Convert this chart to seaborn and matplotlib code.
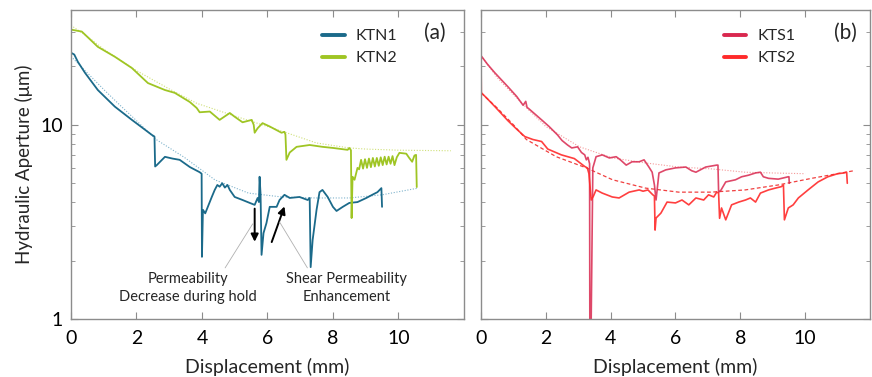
import numpy as np
import pandas as pd
import matplotlib
matplotlib.use("Agg")
import matplotlib.pyplot as plt
from matplotlib.ticker import LogLocator, FixedLocator, FuncFormatter, NullFormatter
import seaborn as sns

# ---------------- data ----------------
# Panel (a)
ktn1_x = [0, 0.1, 0.21, 0.43, 0.82, 1.34, 1.86, 2.2, 2.47, 2.55, 2.57, 2.62, 2.87, 3.1, 3.32, 3.63, 3.93,
          3.99, 4.0, 4.03, 4.1, 4.3, 4.39, 4.47, 4.54, 4.62, 4.7, 4.78, 4.85, 5.0, 5.24, 5.46, 5.61, 5.70,
          5.74, 5.76, 5.79, 5.82, 5.88, 5.97, 6.07, 6.28, 6.37, 6.52, 6.68, 6.98, 7.23, 7.29, 7.32, 7.38,
          7.5, 7.59, 7.68, 7.84, 8.0, 8.11, 8.3, 8.5, 8.75, 9.02, 9.2, 9.36, 9.48, 9.5]
ktn1_y = [23.5, 23.0, 21.1, 18.5, 15.1, 12.4, 10.6, 9.6, 8.87, 8.7, 6.1, 6.2, 6.84, 6.7, 6.6, 6.06, 5.7,
          5.6, 2.09, 3.65, 3.5, 4.25, 4.62, 4.9, 4.8, 5.0, 4.75, 4.9, 4.62, 4.25, 4.1, 3.96, 3.87, 4.2,
          4.0, 5.4, 4.4, 2.14, 2.77, 3.12, 3.78, 3.78, 4.1, 4.36, 4.2, 4.25, 4.1, 4.2, 1.85, 2.55,
          3.65, 4.5, 4.62, 4.25, 3.78, 3.6, 3.78, 3.96, 4.0, 4.2, 4.36, 4.5, 4.72, 3.78]

ktn2_x = [0, 0.33, 0.82, 1.34, 1.86, 2.35, 2.87, 3.17, 3.63, 3.84, 3.93, 4.24, 4.54, 4.85, 5.0, 5.24,
          5.52, 5.58, 5.61, 5.70, 5.85, 6.07, 6.43, 6.52, 6.55, 6.58, 6.68, 6.89, 7.29, 7.68, 8.0, 8.45,
          8.5, 8.55, 8.57, 8.6, 8.66, 8.75,
          8.80, 8.86, 8.92, 8.98, 9.04, 9.10, 9.16, 9.22, 9.28, 9.34, 9.40, 9.46, 9.52,
          9.58, 9.64, 9.70, 9.76, 9.82, 9.88, 9.95, 10.03, 10.24, 10.33, 10.42, 10.49, 10.54, 10.56]
ktn2_y = [30.9, 30.2, 25.2, 22.4, 19.6, 16.4, 15.1, 14.6, 13.1, 12.2, 11.6, 11.7, 10.6, 11.5, 11.0, 10.3,
          10.6, 10.0, 9.1, 9.6, 10.2, 9.8, 9.1, 9.2, 8.9, 6.6, 7.2, 7.7, 7.87, 7.7, 7.6, 7.43,
          7.6, 7.4, 3.31, 5.4, 5.21, 6.0,
          5.9, 6.6, 5.95, 6.65, 6.0, 6.7, 6.05, 6.75, 6.1, 6.75, 6.15, 6.8, 6.2,
          6.85, 6.25, 6.85, 6.3, 6.9, 6.2, 6.8, 7.17, 7.1, 6.75, 6.45, 6.95, 7.0, 4.78]

ktn1_fit_x = [0, 0.5, 1.0, 1.5, 2.0, 2.6, 3.46, 4.4, 5.42, 6.44, 7.45, 8.5, 9.5, 10.6]
ktn1_fit_y = [22.5, 18.5, 15.2, 12.6, 10.5, 8.4, 6.8, 5.2, 4.45, 4.25, 4.2, 4.2, 4.36, 4.72]
ktn2_fit_x = [0, 0.5, 1, 2, 3, 3.84, 5, 6, 6.5, 7.5, 8.5, 9, 10, 11.6]
ktn2_fit_y = [32.5, 28.5, 24.5, 19.0, 15.3, 12.9, 11.1, 9.8, 9.2, 8.06, 7.6, 7.5, 7.4, 7.35]

# Panel (b)
kts1_x = [0, 0.2, 0.43, 0.83, 1.1, 1.3, 1.38, 1.42, 1.5, 1.87, 2.1, 2.36, 2.5, 2.67, 2.8, 2.98, 3.1,
          3.2, 3.25, 3.3, 3.35, 3.36, 3.38, 3.45, 3.55, 3.74, 3.96, 4.17, 4.3, 4.48, 4.66, 4.88, 5.03,
          5.18, 5.28, 5.35, 5.4, 5.49, 5.7, 6.0, 6.32, 6.5, 6.63, 6.93, 7.27, 7.31, 7.33, 7.4, 7.55,
          7.85, 8.04, 8.25, 8.47, 8.62, 8.71, 8.87, 9.17, 9.48, 9.5, 9.51]
kts1_y = [22.7, 20.5, 18.5, 15.7, 14.0, 12.6, 13.2, 12.3, 12.0, 10.6, 9.8, 8.87, 8.3, 7.87, 7.6, 7.7,
          7.2, 7.0, 6.6, 6.8, 6.3, 0.5, 0.5, 6.0, 6.85, 7.0, 6.75, 6.85, 6.6, 6.2, 6.45, 6.45, 6.6,
          6.06, 5.7, 4.9, 4.1, 5.65, 5.86, 6.0, 6.06, 5.8, 5.7, 6.06, 6.2, 6.2, 4.5, 4.6, 5.08,
          5.21, 5.4, 5.5, 5.65, 5.7, 5.4, 5.3, 5.25, 5.4, 5.4, 5.0]

kts2_x = [0, 0.005, 0.01, 0.015, 0.2, 0.43, 0.83, 1.1, 1.35, 1.6, 1.87, 2.06, 2.48, 2.88, 3.2, 3.28,
          3.33, 3.4, 3.47, 3.55, 3.74, 4.05, 4.26, 4.57, 4.88, 5.0, 5.15, 5.3, 5.35, 5.37, 5.4, 5.55,
          5.74, 6.0, 6.2, 6.41, 6.63, 6.87, 7.02, 7.18, 7.27, 7.33, 7.36, 7.42, 7.55, 7.73, 7.95, 8.16,
          8.31, 8.47, 8.62, 8.87, 9.08, 9.26, 9.33, 9.36, 9.48, 9.63, 9.79, 10.09, 10.4, 10.7, 11.0,
          11.2, 11.28, 11.3]
kts2_y = [14.6, 18.5, 14.8, 14.6, 13.6, 12.4, 10.5, 9.5, 8.7, 8.4, 8.2, 7.5, 7.0, 6.7, 6.1, 6.0,
          5.6, 4.1, 4.3, 4.62, 4.45, 4.25, 4.2, 4.5, 4.62, 4.55, 4.62, 4.36, 4.3, 2.87, 3.31, 3.51,
          4.0, 3.96, 4.1, 3.87, 4.2, 4.1, 4.36, 4.25, 4.5, 4.45, 3.3, 3.73, 3.24, 3.87, 4.0, 4.1,
          4.2, 4.0, 4.45, 4.62, 4.72, 4.8, 4.9, 3.24, 3.73, 3.87, 4.2, 4.62, 5.08, 5.4, 5.6,
          5.65, 5.7, 5.0]

kts1_fit_x = [0, 0.5, 1, 1.5, 2, 3.04, 4.06, 5.08, 6.1, 7.1, 8.15, 8.97, 10.0]
kts1_fit_y = [22.7, 17.5, 14.3, 11.8, 9.8, 7.7, 6.75, 6.36, 6.06, 5.93, 5.7, 5.65, 5.6]
kts2_fit_x = [0, 0.5, 1.0, 1.4, 2.32, 3.25, 4.06, 5.08, 6.1, 7.1, 8.15, 9.17, 10.2, 11.5]
kts2_fit_y = [14.6, 12.2, 10.0, 8.4, 6.85, 6.0, 5.21, 4.72, 4.5, 4.5, 4.62, 4.9, 5.3, 5.8]

x_ticks = [0, 2, 4, 6, 8, 10]

# ---------------- style ----------------
sns.set_style("ticks")
plt.rcParams['font.family'] = ['Lato', 'DejaVu Sans']
plt.rcParams.update({
    'xtick.direction': 'in', 'ytick.direction': 'in',
    'xtick.top': True, 'ytick.right': True,
    'axes.edgecolor': '#8c8c8c', 'xtick.color': '#8c8c8c', 'ytick.color': '#8c8c8c',
    'xtick.labelcolor': 'black', 'ytick.labelcolor': 'black',
    'axes.linewidth': 1.0,
})

C_KTN1 = '#1b6a8a'
C_KTN2 = '#9fc524'
C_KTS1 = '#d9284f'
C_KTS2 = '#ff2a2a'

fig = plt.figure(figsize=(8.72, 3.77), dpi=100)
axA = fig.add_axes([0.0814, 0.1538, 0.4506, 0.8197])
axB = fig.add_axes([0.5516, 0.1538, 0.4461, 0.8197])


def line(ax, x, y, **kw):
    sns.lineplot(x=x, y=y, ax=ax, estimator=None, sort=False, **kw)


# panel a
line(axA, ktn1_fit_x, ktn1_fit_y, color='#7fb3cc', lw=0.8, linestyle=(0, (1, 1.5)))
line(axA, ktn2_fit_x, ktn2_fit_y, color='#cfe07a', lw=0.8, linestyle=(0, (1, 1.5)))
line(axA, ktn1_x, ktn1_y, color=C_KTN1, lw=1.3, label='KTN1')
line(axA, ktn2_x, ktn2_y, color=C_KTN2, lw=1.3, label='KTN2')

# panel b
line(axB, kts1_fit_x, kts1_fit_y, color='#f59a9a', lw=0.8, linestyle=(0, (1, 1.5)))
line(axB, kts2_fit_x, kts2_fit_y, color='#f04040', lw=0.9, linestyle=(0, (3, 2)))
line(axB, kts1_x, kts1_y, color=C_KTS1, lw=1.2, alpha=0.85, label='KTS1')
line(axB, kts2_x, kts2_y, color=C_KTS2, lw=1.2, alpha=0.9, label='KTS2')

for ax in (axA, axB):
    ax.set_yscale('log')
    ax.set_ylim(1, 39)
    ax.set_xlim(0, 12)
    ax.xaxis.set_major_locator(FixedLocator(x_ticks))
    ax.yaxis.set_major_locator(LogLocator(base=10))
    ax.yaxis.set_minor_locator(LogLocator(base=10, subs=np.arange(2, 10)))
    ax.yaxis.set_major_formatter(FuncFormatter(lambda v, p: f"{v:g}"))
    ax.yaxis.set_minor_formatter(NullFormatter())
    ax.tick_params(axis='both', which='major', length=5, width=0.8, labelsize=14, pad=6)
    ax.tick_params(axis='x', which='major', pad=8)
    ax.tick_params(axis='both', which='minor', length=3, width=0.6)
    ax.tick_params(axis='x', top=True)
    ax.set_xlabel('Displacement (mm)', fontsize=14, labelpad=8)
    ax.set_ylabel('')
    for s in ax.spines.values():
        s.set_color('#8c8c8c')

axA.set_ylabel('Hydraulic Aperture (μm)', fontsize=13.5, labelpad=5)
axB.tick_params(axis='y', which='both', labelleft=False)

leg_anchor = {axA: (0.603, 0.985), axB: (0.587, 0.985)}
for ax in (axA, axB):
    leg = ax.legend(loc='upper left', bbox_to_anchor=leg_anchor[ax], frameon=False,
                    fontsize=11.5, handlelength=1.4, handletextpad=0.7, labelspacing=0.5)
    for h in leg.get_lines():
        h.set_linewidth(2.8)
        h.set_alpha(1)

axA.text(0.926, 0.926, '(a)', transform=axA.transAxes, fontsize=15, ha='center', va='center')
axB.text(0.936, 0.926, '(b)', transform=axB.transAxes, fontsize=15, ha='center', va='center')

# annotations
arrow_kw = dict(arrowstyle='-|>', color='black', lw=1.4, mutation_scale=11, shrinkA=0, shrinkB=0)
axA.annotate('', xy=(5.61, 2.5), xytext=(5.61, 3.7), arrowprops=arrow_kw)
axA.annotate('', xy=(6.52, 3.8), xytext=(6.13, 2.49), arrowprops=arrow_kw)

lead_kw = dict(arrowstyle='-', color='#b0b0b0', lw=0.6, shrinkA=1, shrinkB=0)
axA.annotate('Permeability\nDecrease during hold', xy=(5.55, 3.09), xytext=(3.57, 1.44),
             ha='center', va='center', fontsize=10.5, linespacing=1.35,
             arrowprops=dict(relpos=(0.75, 1.0), **lead_kw))
axA.annotate('Shear Permeability\nEnhancement', xy=(6.37, 3.16), xytext=(8.41, 1.44),
             ha='center', va='center', fontsize=10.5, linespacing=1.35,
             arrowprops=dict(relpos=(0.2, 1.0), **lead_kw))

fig.savefig('out.png', dpi=100)
